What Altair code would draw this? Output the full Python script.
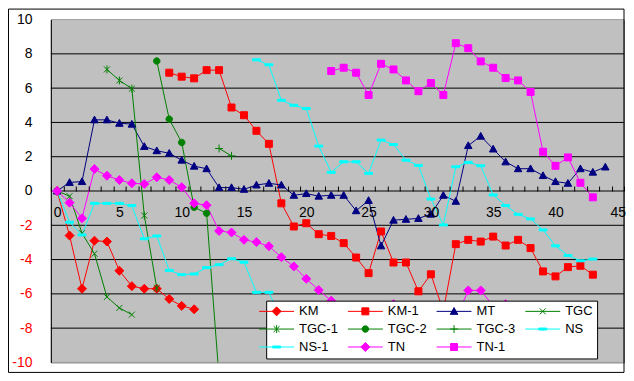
import altair as alt
import pandas as pd

# ---------------- data ----------------
series_names = ["KM", "KM-1", "MT", "TGC", "TGC-1", "TGC-2", "TGC-3", "NS", "NS-1", "TN", "TN-1"]
series_colors = ["#FF0000", "#FF0000", "#000080", "#008000", "#008000", "#008000",
                 "#008000", "#00FFFF", "#00FFFF", "#FF00FF", "#FF00FF"]
series_start = [0, 9, 0, 0, 4, 8, 13, 0, 16, 0, 22]

km = [0, -2.6, -5.7, -2.9, -2.95, -4.65, -5.55, -5.7, -5.7, -6.3, -6.7, -6.9]
km_1 = [6.9, 6.67, 6.57, 7.05, 7.05, 4.87, 4.42, 3.51, 2.75, -0.72, -2.07, -1.88,
        -2.52, -2.62, -3.04, -3.88, -4.79, -2.36, -4.17, -4.17, -5.85, -4.86, -7.0,
        -3.1, -2.85, -2.95, -2.66, -3.18, -2.85, -3.33, -4.69, -4.98, -4.44, -4.36, -4.88]
mt = [0, 0.5, 0.55, 4.15, 4.15, 3.95, 3.9, 2.6, 2.35, 2.2, 1.8, 1.45, 1.3, 0.2, 0.2,
      0.1, 0.35, 0.45, 0.35, -0.25, -0.15, -0.3, -0.25, -0.25, -1.15, -0.55, -3.2,
      -1.7, -1.65, -1.6, -1.35, -0.25, -0.6, 2.65, 3.2, 2.45, 1.7, 1.3, 1.3, 0.9,
      0.55, 0.45, 1.3, 1.1, 1.4]
tgc = [0, -0.3, -2.46, -3.66, -6.18, -6.82, -7.21]
tgc_1 = [7.09, 6.45, 5.97, -1.43, -5.66]
tgc_2 = [7.58, 4.19, 2.83, -0.95, -1.3, -10.9]
tgc_3 = [2.48, 2.05]
ns = [0, -1.82, -2.56, -0.72, -0.72, -0.72, -0.85, -2.79, -2.62, -4.63, -4.88, -4.84,
      -4.47, -4.3, -3.95, -4.15, -5.91, -5.91, -7.5]
ns_1 = [7.65, 7.36, 5.29, 5.0, 4.81, 2.62, 1.09, 1.7, 1.7, 1.03, 2.97, 2.71, 1.8, 1.49,
        -0.47, -1.98, 1.41, 1.67, 1.47, -0.23, -0.85, -1.36, -1.63, -2.27, -3.2,
        -3.76, -4.07, -3.97]
tn = [0, -0.68, -1.59, 1.28, 0.89, 0.64, 0.45, 0.41, 0.8, 0.64, 0.22, -0.72, -0.83,
      -2.33, -2.42, -2.85, -2.98, -3.22, -3.86, -4.4, -5.12, -5.78, -6.4, -6.9, -7.2,
      -7.3, -7.0, -6.6, -7.0, -7.3, -7.5, -7.4, -7.5, -5.8, -5.8, -6.7, -6.6]
tn_1 = [7.0, 7.19, 6.9, 5.6, 7.42, 7.09, 6.45, 5.82, 6.3, 5.6, 8.62, 8.33, 7.56, 7.19,
        6.59, 6.45, 5.78, 2.29, 1.47, 1.96, 0.48, -0.37]

series_values = [km, km_1, mt, tgc, tgc_1, tgc_2, tgc_3, ns, ns_1, tn, tn_1]

x_label_values = [0, 5, 10, 15, 20, 25, 30, 35, 40, 45]
x_tick_values = [i - 0.5 for i in range(47)]
y_tick_values = [-10, -8, -6, -4, -2, 0, 2, 4, 6, 8, 10]
grid_values = [-8, -6, -4, -2, 0, 2, 4, 6, 8]
x_domain = [-0.5, 45.5]
y_domain = [-10, 10]

# ---------------- marker shapes (custom SVG paths) ----------------
DIAMOND = "M0,-0.9L0.9,0L0,0.9L-0.9,0Z"
SQUARE = "M-0.7,-0.7H0.7V0.7H-0.7Z"
TRIANGLE = "M0,-0.75L0.75,0.6L-0.75,0.6Z"
XMARK = "M-0.6,-0.6L0.6,0.6M-0.6,0.6L0.6,-0.6"
STAR = "M-0.6,-0.6L0.6,0.6M-0.6,0.6L0.6,-0.6M0,-0.8V0.8"
CIRCLE = "M-0.65,0A0.65,0.65 0 1,0 0.65,0A0.65,0.65 0 1,0 -0.65,0Z"
PLUS = "M-0.8,0H0.8M0,-0.8V0.8"
DASH = "M-0.8,-0.2H0.8V0.2H-0.8Z"
marker_paths = [DIAMOND, SQUARE, TRIANGLE, XMARK, STAR, CIRCLE, PLUS, DASH, DASH, DIAMOND, SQUARE]
LEG_LINE = "M-3.5,0H3.5"
legend_paths = [LEG_LINE + p for p in marker_paths]

rows = []
for name, start, vals in zip(series_names, series_start, series_values):
    for i, v in enumerate(vals):
        rows.append({"series": name, "x": start + i, "y": v})
df = pd.DataFrame(rows)
legend_df = pd.DataFrame({"name": series_names})
grid_df = pd.DataFrame({"y": grid_values})
bg_df = pd.DataFrame({"x0": [x_domain[0]], "x1": [x_domain[1]],
                      "y0": [y_domain[0]], "y1": [y_domain[1]]})

FONT = "Liberation Sans"
W, H = 575, 344

x_scale = alt.Scale(domain=x_domain, nice=False, zero=False)
y_scale = alt.Scale(domain=y_domain, nice=False, zero=False)

y_axis = alt.Axis(
    orient="left", values=y_tick_values, grid=False, ticks=False, tickSize=0,
    domain=True, domainColor="black", zindex=1,
    labelPadding=19, labelFont=FONT, labelFontSize=14,
    labelColor={"condition": {"test": "datum.value < 0", "value": "red"}, "value": "black"},
    labelExpr="datum.value < 0 ? '-' + abs(datum.value) : '' + datum.value",
    title=None,
)
x_label_axis = alt.Axis(
    orient="bottom", offset=-H / 2, values=x_label_values, ticks=False, tickSize=0,
    domain=False, grid=False, zindex=1, labelPadding=22,
    labelBaseline="middle", labelFont=FONT, labelFontSize=14, labelColor="black",
    labelFlush=False, title=None,
)
x_tick_axis = alt.Axis(
    orient="top", offset=-H / 2, values=x_tick_values, ticks=True, tickSize=5,
    tickColor="black", labels=False, domain=False, grid=False, zindex=1, title=None,
)

legend_def = alt.Legend(
    title=None, orient="none", legendX=216, legendY=282, direction="horizontal",
    columns=4, gridAlign="all", fillColor="white", strokeColor="black", padding=4,
    symbolSize=100, symbolStrokeWidth=1, symbolOpacity=1,
    labelFont=FONT, labelFontSize=13, labelColor="black", labelOffset=16,
    columnPadding=8, rowPadding=4, labelLimit=200,
)

# plot-area background (gray), spanning the scale domain
bg = alt.Chart(bg_df).mark_rect(
    color="#C0C0C0", stroke="#808080", strokeWidth=1, clip=True
).encode(
    x=alt.X("x0:Q", scale=x_scale, axis=None), x2="x1:Q",
    y=alt.Y("y0:Q", scale=y_scale, axis=y_axis), y2="y1:Q",
)

# horizontal major gridlines (0 line doubles as the category axis line)
grid = alt.Chart(grid_df).mark_rule(color="black", strokeWidth=1).encode(
    y=alt.Y("y:Q", scale=y_scale, axis=y_axis),
)

lines = alt.Chart(df).mark_line(strokeWidth=1, clip=True).encode(
    x=alt.X("x:Q", scale=x_scale, axis=x_label_axis),
    y=alt.Y("y:Q", scale=y_scale, axis=y_axis),
    color=alt.Color("series:N", scale=alt.Scale(domain=series_names, range=series_colors), legend=None),
    order=alt.Order("x:Q"),
)

points = alt.Chart(df).mark_point(filled=True, size=100, strokeWidth=1, opacity=1, clip=True).encode(
    x=alt.X("x:Q", scale=x_scale, axis=x_tick_axis),
    y=alt.Y("y:Q", scale=y_scale, axis=y_axis),
    fill=alt.Fill("series:N", scale=alt.Scale(domain=series_names, range=series_colors), legend=None),
    stroke=alt.Stroke("series:N", scale=alt.Scale(domain=series_names, range=series_colors), legend=None),
    shape=alt.Shape("series:N", scale=alt.Scale(domain=series_names, range=marker_paths), legend=None),
)

legend_layer = alt.Chart(legend_df).transform_filter("false").mark_point(
    filled=True, size=100, strokeWidth=1, opacity=1
).encode(
    fill=alt.Fill("name:N", scale=alt.Scale(domain=series_names, range=series_colors), legend=legend_def),
    stroke=alt.Stroke("name:N", scale=alt.Scale(domain=series_names, range=series_colors), legend=legend_def),
    shape=alt.Shape("name:N", scale=alt.Scale(domain=series_names, range=legend_paths), legend=legend_def),
)

# outer chart-area frame
border = alt.Chart(pd.DataFrame({"k": [0]})).mark_rect(
    filled=False, stroke="black", strokeWidth=1, clip=False
).encode(
    x=alt.value(-42.5), x2=alt.value(W), y=alt.value(-10.5), y2=alt.value(354)
)

chart = alt.layer(bg, grid, lines, points, legend_layer, border).resolve_scale(
    color="independent", fill="independent", stroke="independent", shape="independent"
).resolve_axis(x="independent").properties(
    width=W, height=H, padding=0, background="white"
).configure_view(fill="#C0C0C0", stroke="#808080", strokeWidth=1)

chart.save("out.html", embed_options={"renderer": "svg", "actions": False})
